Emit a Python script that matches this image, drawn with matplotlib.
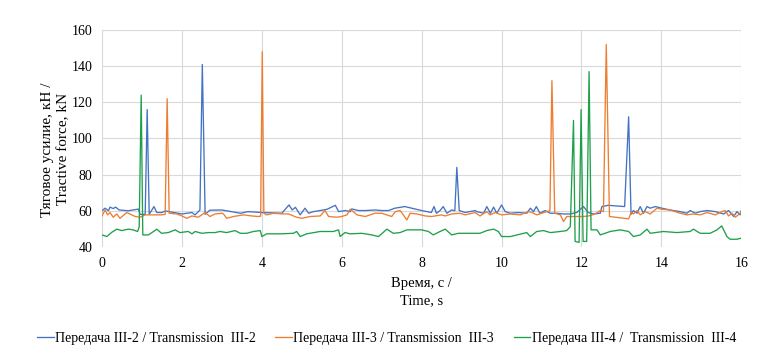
import matplotlib
matplotlib.use("Agg")
import matplotlib.pyplot as plt

plt.rcParams['font.family'] = ['Liberation Serif', 'DejaVu Serif']

# III-2 (blue)
t2 = [0.0, 0.075, 0.16, 0.2, 0.28, 0.34, 0.43, 0.66, 0.91, 0.95, 1.08, 1.13, 1.18, 1.3, 1.37, 1.5, 1.58,
      2.0, 2.25, 2.33, 2.45, 2.51, 2.58, 2.7, 3.0, 3.47, 3.65, 4.0, 4.5, 4.68, 4.76, 4.84, 4.96, 5.08,
      5.17, 5.29, 5.46, 5.63, 5.84, 5.92, 6.09, 6.21, 6.25, 6.42, 6.58, 6.84, 7.0, 7.17, 7.33, 7.58,
      7.75, 8.0, 8.24, 8.31, 8.37, 8.46, 8.54, 8.63, 8.75, 8.83, 8.88, 8.94, 9.09, 9.34, 9.38, 9.55,
      9.63, 9.72, 9.8, 9.88, 10.0, 10.09, 10.22, 10.42, 10.63, 10.72, 10.8, 10.87, 10.96, 11.09, 11.22,
      11.38, 11.55, 11.72, 11.88, 12.05, 12.17, 12.3, 12.47, 12.51, 12.67, 13.08, 13.18, 13.24, 13.3,
      13.39, 13.47, 13.55, 13.64, 13.72, 13.85, 14.01, 14.22, 14.47, 14.64, 14.72, 14.85, 14.97,
      15.14, 15.35, 15.56, 15.68, 15.81, 15.89, 15.97, 16.0]
v2 = [60, 61.4, 60, 62, 61.2, 62, 60.4, 60, 60.9, 58, 58, 116, 58, 62.3, 59, 59, 59.9,
      58.2, 59, 57.7, 60.4, 141, 58, 60.3, 60.4, 58.6, 59.5, 59, 58.6, 63.2, 60.4, 61.9, 57.7, 61.4,
      58.6, 59.5, 60.1, 60.8, 63, 59.5, 60.1, 59.5, 61, 60.1, 60.1, 60.4, 60.1, 60.1, 61.4, 62.3,
      61.4, 60.1, 59, 62.3, 58.6, 60.1, 62.3, 58.6, 60.4, 60, 84, 60.1, 59, 60.1, 59.5, 58.6,
      62.3, 58.6, 62, 58.6, 63.2, 59.5, 58.6, 59, 58.6, 61.4, 59.5, 62.3, 58.6, 60.1, 58.6,
      58.6, 58.2, 58.2, 59, 62.3, 59, 58.2, 58.6, 62.3, 63, 62.3, 112, 58, 60.1,
      58.6, 62.3, 58.6, 62.3, 61.4, 62.3, 61.4, 60.4, 59.5, 58.6, 60.1, 58.6, 59.5,
      60.1, 59.5, 58.2, 60.1, 56.8, 59.5, 57.7, 60.1]

# III-3 (orange)
t3 = [0.0, 0.075, 0.14, 0.2, 0.28, 0.37, 0.45, 0.62, 0.83, 0.95, 1.08, 1.24, 1.49, 1.58, 1.63, 1.68,
      1.87, 2.0, 2.12, 2.25, 2.41, 2.58, 2.7, 2.83, 3.0, 3.04, 3.12, 3.29, 3.54, 3.75, 3.91, 3.97,
      4.01, 4.05, 4.12, 4.29, 4.54, 4.67, 4.87, 5.0, 5.21, 5.46, 5.58, 5.67, 5.88, 6.0, 6.13, 6.21,
      6.29, 6.38, 6.59, 6.83, 7.0, 7.25, 7.34, 7.46, 7.54, 7.63, 7.71, 7.88, 8.09, 8.25, 8.5, 8.59,
      8.75, 8.96, 9.09, 9.34, 9.46, 9.63, 9.71, 9.84, 10.0, 10.22, 10.47, 10.67, 10.76, 10.88,
      11.13, 11.21, 11.26, 11.33, 11.47, 11.55, 11.63, 11.8, 12.05, 12.18, 12.34, 12.47, 12.55,
      12.62, 12.7, 13.18, 13.24, 13.3, 13.39, 13.47, 13.6, 13.72, 13.89, 14.01, 14.22, 14.47,
      14.64, 14.8, 14.97, 15.14, 15.35, 15.51, 15.6, 15.68, 15.77, 15.85, 15.97, 16.0]
v3 = [57.1, 60.4, 57.7, 59, 56.4, 58.2, 55.8, 59, 56.8, 56.4, 57.7, 57.7, 57.7, 58, 122, 58.6,
      58.2, 57.1, 55.8, 57.1, 56.4, 59, 56.8, 58.2, 58.6, 58.2, 55.8, 56.8, 57.7, 57.1, 56.8, 57,
      148, 58.6, 57.7, 58.6, 58.2, 58.2, 56.4, 55.8, 56.8, 57.1, 60.1, 56.8, 56.4, 56.8, 57.7, 60.8,
      59.5, 57.7, 56.8, 58.6, 58.6, 56.8, 59.5, 60.1, 57.7, 54.9, 58.6, 58.2, 57.1, 56.8, 57.7, 57.1,
      58.2, 58.6, 57.7, 59, 57.1, 59.5, 57.7, 59, 57.7, 58.2, 57.7, 59.5, 59, 57.7,
      59.5, 60, 132, 58.6, 57.7, 54, 56.8, 56.8, 56.8, 57.1, 58.2, 60.1, 59.5,
      152, 56.8, 55.5, 59, 58.2, 60.1, 57.7, 59.5, 58.2, 61.4, 60.8, 60.4, 58.6,
      57.7, 58.2, 57.7, 59, 57.7, 59.5, 60.1, 57.1, 58.6, 56.4, 58.6, 59.5]

# III-4 (green)
t4 = [0.0, 0.12, 0.24, 0.37, 0.49, 0.66, 0.78, 0.89, 0.93, 0.98, 1.02, 1.16, 1.29, 1.37, 1.49, 1.66,
      1.83, 1.95, 2.16, 2.25, 2.33, 2.5, 2.66, 2.83, 2.95, 3.12, 3.33, 3.46, 3.62, 3.79, 3.96, 4.0,
      4.12, 4.46, 4.79, 4.87, 4.96, 5.12, 5.46, 5.79, 5.92, 5.96, 6.08, 6.21, 6.5, 6.75, 6.92, 7.13,
      7.29, 7.46, 7.63, 8.0, 8.17, 8.29, 8.46, 8.59, 8.75, 8.92, 9.34, 9.46, 9.63, 9.8, 9.92, 10.0,
      10.22, 10.63, 10.72, 10.88, 11.05, 11.22, 11.47, 11.63, 11.72, 11.8, 11.84, 11.94, 11.99,
      12.04, 12.13, 12.19, 12.24, 12.39, 12.47, 12.72, 12.97, 13.18, 13.3, 13.47, 13.64, 13.72,
      14.05, 14.39, 14.72, 14.8, 14.97, 15.22, 15.39, 15.51, 15.64, 15.72, 15.89, 16.0]
v4 = [46.6, 45.7, 48, 49.8, 49, 49.8, 49.4, 48.5, 51, 124, 46.6, 46.6, 48.5, 49.8, 47.5, 47.9,
      49.4, 47.9, 48.5, 47.2, 48.5, 47.5, 47.9, 47.9, 48.5, 47.9, 49, 47.5, 47.5, 48.5, 49, 45.7,
      47.2, 47.2, 47.5, 48.5, 45.7, 47.2, 48.5, 48.5, 49.4, 45.7, 47.9, 47.2, 47.5, 46.6, 45.7, 49.8,
      47.5, 47.9, 49.4, 49.4, 48.5, 46.6, 48.5, 49.8, 46.6, 47.5, 47.5, 47.5, 49, 49.8, 48.5, 45.7,
      45.7, 47.9, 45.7, 48.5, 49, 47.9, 48.5, 49, 51.2, 110, 43, 42.5, 116,
      43, 43, 137, 49.4, 49.4, 46.6, 48.5, 49.4, 48.5, 45.7, 46.6, 49.8, 47.5,
      48.5, 47.9, 48.5, 49.8, 47.5, 47.5, 49.4, 51.6, 45.7, 44.2, 44.2, 44.8]

labels = ["Передача III-2 / Transmission  III-2",
          "Передача III-3 / Transmission  III-3",
          "Передача III-4 /  Transmission  III-4"]
colors = ["#4472C4", "#ED7D31", "#1FA04A"]

fig = plt.figure(figsize=(7.73, 3.63), dpi=100)
ax = fig.add_axes([0.132, 0.32, 0.827, 0.597])

for t, v, lab, c in zip([t2, t3, t4], [v2, v3, v4], labels, colors):
    ax.plot(t, v, color=c, lw=0.95, label=lab)

ax.set_xlim(0, 16)
ax.set_ylim(40, 160)
ax.set_xticks(range(0, 17, 2))
ax.set_yticks(range(40, 161, 20))
ax.grid(True, color="#D9D9D9", lw=0.8)
ax.set_axisbelow(True)
for s in ax.spines.values():
    s.set_visible(False)
ax.tick_params(length=0, labelsize=10, pad=7)

ax.set_xlabel("Время, с /\nTime, s", fontsize=10.5, labelpad=5, linespacing=1.5)
ax.set_ylabel("Тяговое усилие, кН /\nTractive force, kN", fontsize=11, linespacing=1.3)
ax.yaxis.set_label_coords(-0.05, 0.45)

fig.legend(loc="center", bbox_to_anchor=(0.5, 0.068), ncol=3, frameon=False, fontsize=10,
           handlelength=1.2, handletextpad=0.1, columnspacing=1.4)

fig.savefig("out.png", dpi=100)
